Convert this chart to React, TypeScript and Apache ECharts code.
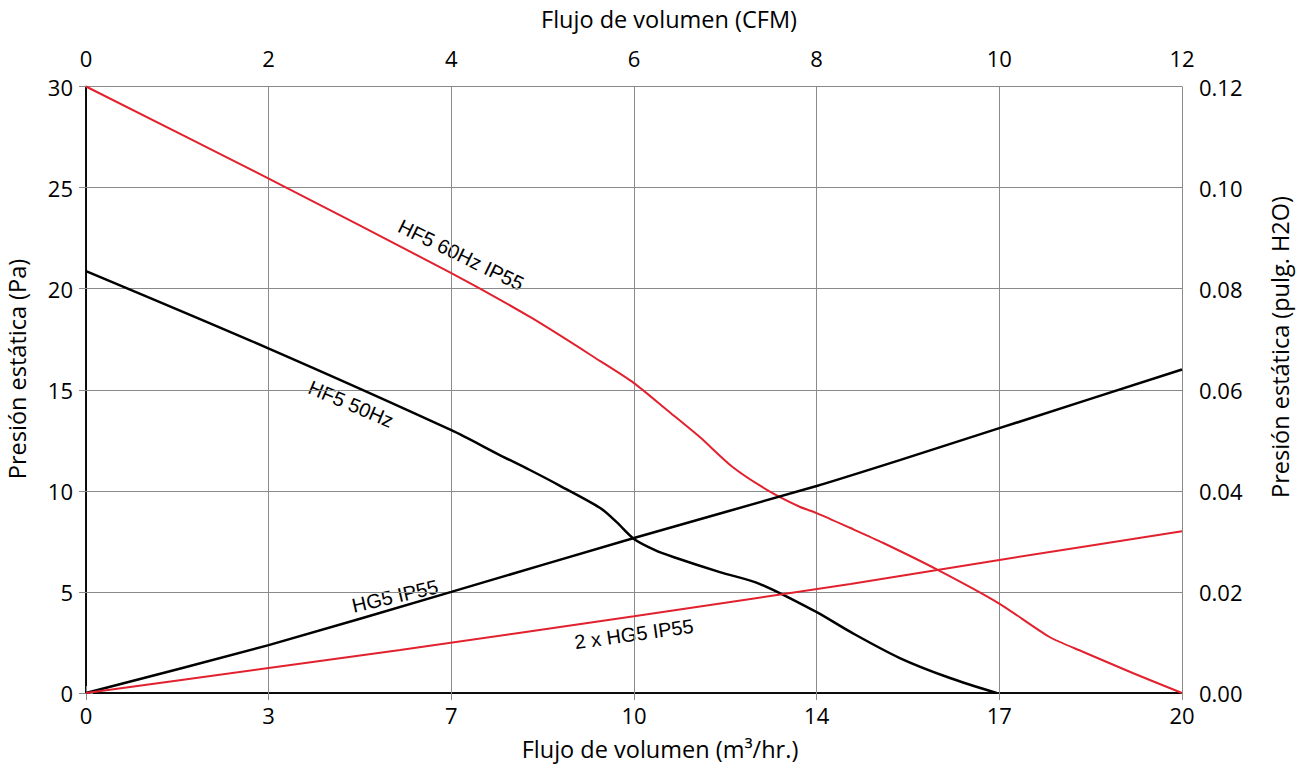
import React, { useEffect, useRef } from "react";
import * as echarts from "echarts";

// x values in CFM (top axis units), y values in Pa
const cfmTicks = [0, 2, 4, 6, 8, 10, 12];
const m3hTickLabels = ["0", "3", "7", "10", "14", "17", "20"];

const hf5_60_x = [0, 1.99, 4.0, 4.88, 5.63, 6.0, 6.36, 6.72, 7.08, 7.46, 7.82, 8.0, 8.37, 8.73, 9.33, 9.99, 10.55, 10.92, 11.46, 12];
const hf5_60_y = [30, 25.47, 20.77, 18.55, 16.42, 15.33, 14.0, 12.66, 11.18, 10.04, 9.2, 8.9, 8.16, 7.42, 6.08, 4.45, 2.77, 2.03, 0.99, 0];

const hf5_50_x = [0, 1.99, 4.0, 4.53, 4.86, 5.19, 5.63, 5.81, 6.0, 6.23, 6.43, 6.94, 7.38, 8.0, 8.37, 8.91, 9.46, 9.97];
const hf5_50_y = [20.87, 17.06, 13.0, 11.77, 11.03, 10.25, 9.15, 8.45, 7.62, 7.07, 6.73, 5.98, 5.39, 4.0, 3.02, 1.73, 0.74, 0];

const hg5_x = [0, 2, 4, 6, 8, 8.91, 10, 12];
const hg5_y = [0, 2.37, 5.0, 7.67, 10.24, 11.52, 13.1, 16.0];

const hg5x2_x = [0, 2, 3.44, 6, 8.37, 10, 12];
const hg5x2_y = [0, 1.24, 2.13, 3.8, 5.39, 6.58, 8.0];

const RED = "#e2212f";
const GRID = "#8a8a8a";
const AXIS_FONT = "Open Sans";
const CURVE_FONT = "Liberation Sans";
const TICK_SIZE = 22;
const NAME_SIZE = 23.5;

const pair = (xs: number[], ys: number[]) => xs.map((x, i) => [x, ys[i]]);

export default function App() {
  const ref = useRef<HTMLDivElement>(null);
  useEffect(() => {
    if (!ref.current) return;
    const chart = echarts.init(ref.current, undefined, { renderer: "svg" });
    const axisCommon = {
      type: "value" as const,
      min: 0,
      max: 12,
      interval: 2,
      axisLine: { show: true, lineStyle: { color: "#000", width: 1.5 } },
      axisTick: { show: true, length: 7, lineStyle: { color: GRID, width: 1 } },
      splitLine: { show: true, lineStyle: { color: GRID, width: 1 } },
    };
    const nameText = (text: string, x: number, y: number, rotation = 0) => ({
      type: "text",
      x,
      y,
      rotation,
      style: { text, fill: "#000", font: `${NAME_SIZE}px "${AXIS_FONT}"`, align: "center", verticalAlign: "middle" },
    });
    const curveText = (text: string, x: number, y: number, deg: number) => ({
      type: "text",
      x,
      y,
      rotation: (deg * Math.PI) / 180,
      style: { text, fill: "#000", font: `20px "${CURVE_FONT}"`, align: "center", verticalAlign: "middle" },
    });
    const lineSeries = (name: string, xs: number[], ys: number[], color: string, width: number, smooth: number) => ({
      name,
      type: "line",
      data: pair(xs, ys),
      smooth,
      showSymbol: false,
      lineStyle: { color, width },
      z: 5,
    });
    chart.setOption({
      animation: false,
      backgroundColor: "#fff",
      grid: { left: 86, top: 86.5, right: 117, bottom: 76, containLabel: false },
      xAxis: [
        {
          ...axisCommon,
          position: "bottom",
          axisLabel: {
            color: "#000",
            fontFamily: AXIS_FONT,
            fontSize: TICK_SIZE,
            margin: 11,
            formatter: (v: number) => m3hTickLabels[cfmTicks.indexOf(Math.round(v))] ?? "",
          },
        },
        {
          ...axisCommon,
          position: "top",
          splitLine: { show: false },
          axisLabel: { color: "#000", fontFamily: AXIS_FONT, fontSize: TICK_SIZE, margin: 18 },
        },
      ],
      yAxis: [
        {
          type: "value",
          position: "left",
          min: 0,
          max: 30,
          interval: 5,
          axisLine: { show: true, lineStyle: { color: "#000", width: 1.5 } },
          axisTick: { show: true, length: 7, lineStyle: { color: GRID, width: 1 } },
          splitLine: { show: true, lineStyle: { color: GRID, width: 1 } },
          axisLabel: { color: "#000", fontFamily: AXIS_FONT, fontSize: TICK_SIZE, margin: 13 },
        },
        {
          type: "value",
          position: "right",
          min: 0,
          max: 0.12,
          interval: 0.02,
          axisLine: { show: true, lineStyle: { color: "#000", width: 1.5 } },
          axisTick: { show: true, length: 7, lineStyle: { color: GRID, width: 1 } },
          splitLine: { show: false },
          axisLabel: {
            color: "#000",
            fontFamily: AXIS_FONT,
            fontSize: TICK_SIZE,
            margin: 17,
            formatter: (v: number) => v.toFixed(2),
          },
        },
      ],
      series: [
        lineSeries("HF5 60Hz IP55", hf5_60_x, hf5_60_y, RED, 2, 0.25),
        lineSeries("HF5 50Hz", hf5_50_x, hf5_50_y, "#000", 2.5, 0.3),
        lineSeries("HG5 IP55", hg5_x, hg5_y, "#000", 2.5, 0.2),
        lineSeries("2 x HG5 IP55", hg5x2_x, hg5x2_y, RED, 2, 0.2),
      ],
      graphic: [
        nameText("Flujo de volumen (CFM)", 669, 19),
        nameText("Flujo de volumen (m³/hr.)", 660, 749),
        nameText("Presión estática (Pa)", 17, 369, Math.PI / 2),
        nameText("Presión estática (pulg. H2O)", 1280, 347, Math.PI / 2),
        curveText("HF5 60Hz IP55", 461, 255, -26),
        curveText("HF5 50Hz", 351, 404, -23),
        curveText("HG5 IP55", 395, 596, 13),
        curveText("2 x HG5 IP55", 634, 634, 8),
      ],
    });
    return () => chart.dispose();
  }, []);
  return (
    <div
      ref={ref}
      style={{ position: "fixed", left: 0, top: 0, width: 1299, height: 769, background: "#fff" }}
    />
  );
}
